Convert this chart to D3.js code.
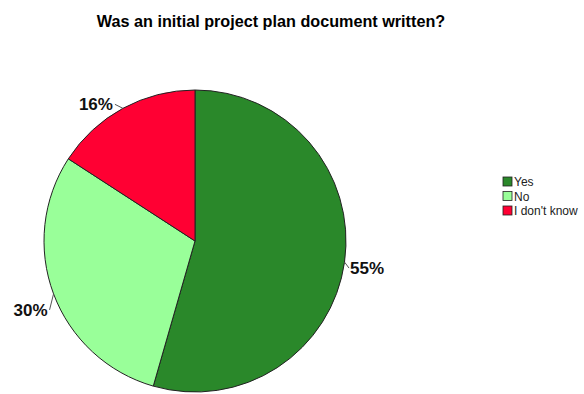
<!DOCTYPE html>
<html>
<head>
<meta charset="utf-8">
<script src="https://cdn.jsdelivr.net/npm/d3@7"></script>
<style>
  html, body { margin: 0; padding: 0; background: #fff; }
  svg { display: block; }
</style>
</head>
<body>
<svg id="chart" width="584" height="394"></svg>
<script>
// Survey answers and their percentage shares
const categories = ["Yes", "No", "I don't know"];
const percents = [55, 30, 16];
const colors = ["#2a882a", "#99ff99", "#ff0033"];
const title = "Was an initial project plan document written?";

const width = 584, height = 394;
const cx = 195, cy = 241, radius = 151;

const svg = d3.select("#chart");

svg.append("text")
  .attr("x", 271)
  .attr("y", 27)
  .attr("text-anchor", "middle")
  .attr("font-family", "Liberation Sans, Arial, sans-serif")
  .attr("font-weight", "bold")
  .attr("font-size", 16.2)
  .attr("fill", "#000")
  .text(title);

const pie = d3.pie().sort(null).value(d => d)(percents);
const arc = d3.arc().innerRadius(0).outerRadius(radius);

const g = svg.append("g").attr("transform", `translate(${cx},${cy})`);

g.selectAll("path.slice")
  .data(pie)
  .join("path")
  .attr("class", "slice")
  .attr("d", arc)
  .attr("fill", (d, i) => colors[i])
  .attr("stroke", "#222")
  .attr("stroke-width", 1);

// Percentage labels sit just outside the rim; the nudge gives the text
// anchor (baseline point) relative to the rim point of each slice's mid-angle.
const labelNudge = [[5.5, 12], [-6, 22], [-10, 2]];
const edgeArc = d3.arc().innerRadius(radius).outerRadius(radius);

const labelInfo = pie.map((d, i) => {
  const mid = (d.startAngle + d.endAngle) / 2;
  const [ex, ey] = edgeArc.centroid(d);
  const right = Math.sin(mid) > 0;
  const tx = ex + labelNudge[i][0];
  const ty = ey + labelNudge[i][1];
  const lx = right ? tx - 1 : tx + 2;
  const ly = ty - 6;
  return { d, i, ex, ey, tx, ty, lx, ly, right };
});

g.selectAll("line.leader")
  .data(labelInfo)
  .join("line")
  .attr("class", "leader")
  .attr("x1", d => d.ex)
  .attr("y1", d => d.ey)
  .attr("x2", d => d.lx)
  .attr("y2", d => d.ly)
  .attr("stroke", "#555")
  .attr("stroke-width", 1);

g.selectAll("text.pct")
  .data(labelInfo)
  .join("text")
  .attr("class", "pct")
  .attr("x", d => d.tx)
  .attr("y", d => d.ty)
  .attr("text-anchor", d => d.right ? "start" : "end")
  .attr("font-family", "Liberation Sans, Arial, sans-serif")
  .attr("font-weight", "bold")
  .attr("font-size", 17)
  .attr("fill", "#111")
  .text(d => percents[d.i] + "%");

// Legend
const legend = svg.append("g").attr("transform", "translate(503,177)");
const rows = legend.selectAll("g.row")
  .data(categories)
  .join("g")
  .attr("class", "row")
  .attr("transform", (d, i) => `translate(0,${i * 14.5})`);

rows.append("rect")
  .attr("width", 9)
  .attr("height", 9)
  .attr("fill", (d, i) => colors[i])
  .attr("stroke", "#222")
  .attr("stroke-width", 0.8);

rows.append("text")
  .attr("x", 11)
  .attr("y", 9)
  .attr("font-family", "Liberation Sans, Arial, sans-serif")
  .attr("font-size", 12)
  .attr("fill", "#222")
  .text(d => d);
</script>
</body>
</html>
